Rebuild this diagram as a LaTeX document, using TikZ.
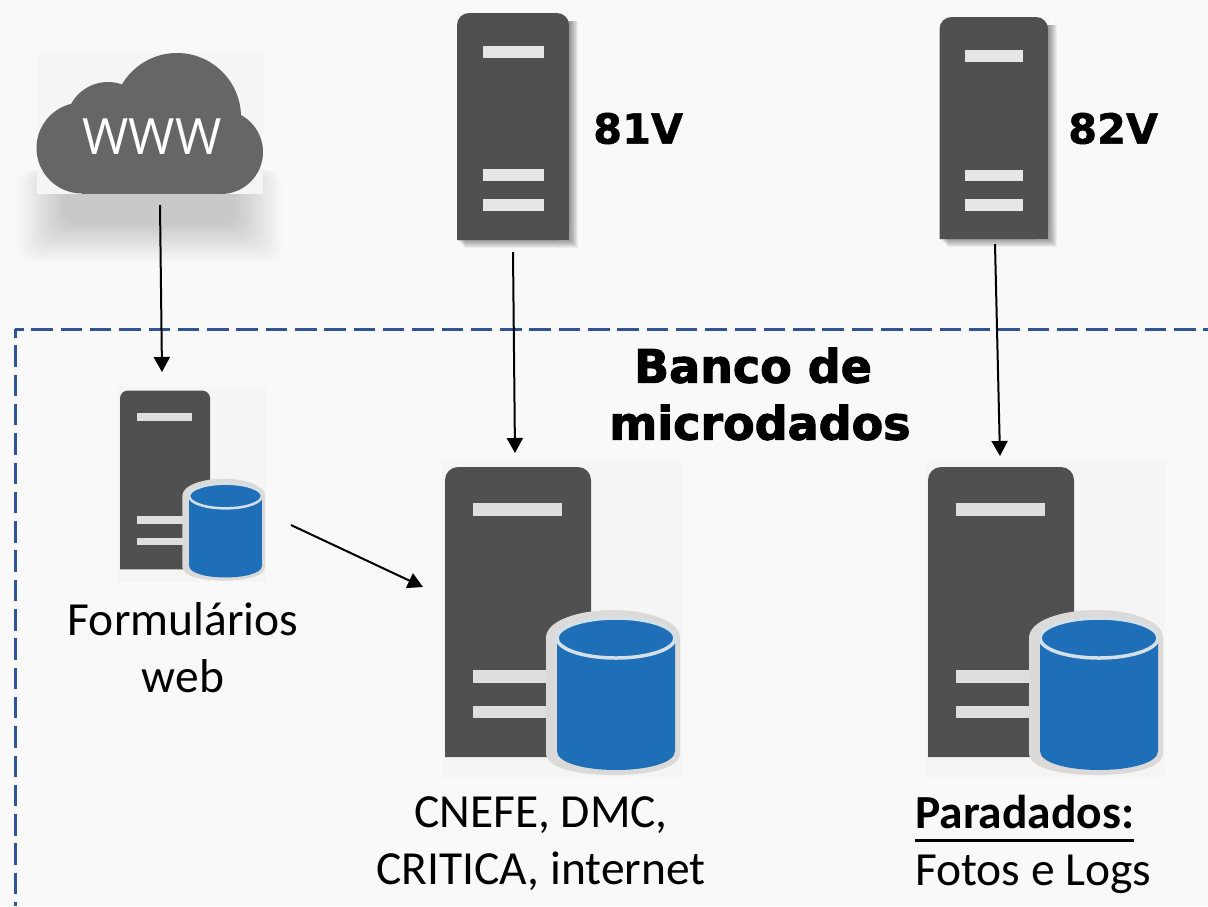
\documentclass[tikz,border=0pt]{standalone}
\usepackage{fontspec}
\setmainfont{Carlito}
\newfontfamily\wwwfont{Open Sans}
\newfontfamily\titlefont[FakeBold=2.2]{DejaVu Sans Bold}
\newfontfamily\tagfont[FakeBold=1]{DejaVu Sans Bold}
\usetikzlibrary{arrows.meta}
\definecolor{pagebg}{HTML}{F9F9F9}
\definecolor{iconbg}{HTML}{F5F5F5}
\definecolor{body}{HTML}{505050}
\definecolor{barc}{HTML}{DEDEDE}
\definecolor{barl}{HTML}{E6E6E6}
\definecolor{halo}{HTML}{DCDAD8}
\definecolor{dbblue}{HTML}{1F6FB8}
\definecolor{rimblue}{HTML}{D5DFE8}
\definecolor{cloudc}{HTML}{666666}
\definecolor{dashc}{HTML}{2F5597}
\newcommand\ulbold[1]{\leavevmode\vtop{\hbox{\textbf{#1}}\kern10pt\hrule height 3pt}}
\def\dbr{13pt}
\def\rimw{3.5pt}
\tikzset{
  x=1pt,y=-1pt,
  conn/.style={draw=black,line width=2pt,-{Triangle[length=15pt,width=16pt]}},
  region/.style={draw=dashc,line width=3pt,dash pattern=on 21.5pt off 7.8pt,dash phase=13pt},
  lbl/.style={font=\fontsize{47.5}{57}\selectfont,align=center,text=black,inner sep=0pt},
  tag/.style={font=\tagfont\fontsize{41.5}{46}\selectfont,text=black,inner sep=0pt},
  ttl/.style={font=\titlefont\fontsize{46}{57}\selectfont,align=center,text=black,inner sep=0pt},
  dbserver/.pic={
    \fill[iconbg] (-3,-6) rectangle (237,310);
    \fill[body] (0,290) [rounded corners=\dbr] -- (0,0) -- (146,0) -- (146,290) [sharp corners] -- cycle;
    \fill[body] (120,260) rectangle (146,290);
    \fill[barc] (28,36) rectangle (117,49);
    \fill[barc] (28,203) rectangle (105,216);
    \fill[barc] (28,239) rectangle (105,251);
    \fill[halo] (101,171) .. controls (101,153) and (135,143) .. (168,143) .. controls (201,143) and (235,153) .. (235,171) -- (235,286) .. controls (235,302) and (201,308) .. (168,308) .. controls (135,308) and (101,302) .. (101,286) -- cycle;
    \fill[dbblue] (112,171) -- (112,284) .. controls (112,296) and (140,303) .. (171,303) .. controls (202,303) and (230,296) .. (230,284) -- (230,171) -- cycle;
    \draw[rimblue,line width=\rimw,fill=dbblue] (171,171) ellipse [x radius=59,y radius=20];
  },
}
\newcommand\topsrv[4]{% x, y, width, height
  \begin{scope}[shift={(#1,#2)}]
    \fill[iconbg] (0,0) rectangle (#3+1,#4);
    \foreach \i in {0,...,7}{
      \fill[black,opacity=.05] ({8-\i},8) rectangle ({#3+9-\i},{#4+8-\i});
    }
    \fill[body] (0,#4) [rounded corners=12pt] -- (0,0) -- (#3,0) -- (#3,#4) [sharp corners] -- cycle;
    \fill[body] (#3-15,#4-15) rectangle (#3,#4);
  \end{scope}
}
\begin{document}
\begin{tikzpicture}
\useasboundingbox (0,0) rectangle (1208,906);
\fill[pagebg] (0,0) rectangle (1208,906);
% dashed region
\coordinate (corner) at (15,329);
\coordinate (regionbottom) at (15,906);
\coordinate (regionright) at (1208,329);
\draw[region] (corner) -- (regionbottom);
\draw[region] (corner) -- (regionright);
% cloud with soft shadow
\foreach \i in {0,...,15}{
  \fill[black,opacity=.011,rounded corners=14pt] ({18+3*\i},170) rectangle ({282-3*\i},{262-2.5*\i});
}
\fill[iconbg] (37,53) rectangle (263,194);
\fill[cloudc] (82,148) circle[radius=45.5];
\fill[cloudc] (108,124) circle[radius=42];
\fill[cloudc] (177,117) circle[radius=64];
\fill[cloudc] (221,152) circle[radius=42];
\fill[cloudc] (82,110) rectangle (221,193.7);
\node[inner sep=0pt,text=white,font=\wwwfont\fontsize{50}{54}\selectfont] (wwwtext) at (152,137) {WWW};
\coordinate (cloudout) at (160,205);
\coordinate (forminto) at (162,372);
% top servers
\topsrv{457}{13}{112}{227}
\fill[barl] (483,46) rectangle (543.5,58);
\fill[barl] (483,169) rectangle (543.5,181);
\fill[barl] (483,199) rectangle (543.5,211);
\topsrv{939.5}{17}{108.5}{222}
\fill[barl] (965,50) rectangle (1023,62);
\fill[barl] (965,170) rectangle (1023,181);
\fill[barl] (965,199) rectangle (1023,211);
\coordinate (s81out) at (513,252);
\coordinate (s82out) at (995,244);
\coordinate (db1in) at (515,453);
\coordinate (db2in) at (1000,456);
\node[tag,anchor=west] (t81) at (593,128.5) {81V};
\node[tag,anchor=west] (t82) at (1068,128.5) {82V};
% db servers
\def\dbr{8pt}\def\rimw{2.5pt}
\pic[scale=.617] at (120,390.5) {dbserver};
\def\dbr{13pt}\def\rimw{3.5pt}
\pic at (445,467) {dbserver};
\pic at (928,467) {dbserver};
\coordinate (formout) at (291,525);
\coordinate (db1side) at (423,587);
% connectors
\draw[conn] (cloudout) -- (forminto);
\draw[conn] (s81out) -- (db1in);
\draw[conn] (s82out) -- (db2in);
\draw[conn] (formout) -- (db1side);
% labels
\node[ttl] (title) at (760,394) {Banco de\hspace*{14pt}\\microdados};
\node[lbl] (lform) at (183,648) {Formulários\\web};
\node[lbl] (ldb1) at (541,844) {CNEFE, DMC,\\CRITICA, internet};
\node[lbl,align=left,anchor=west] (ldb2) at (915,844.5) {\ulbold{Paradados:}\\Fotos e Logs};
\end{tikzpicture}
\end{document}
